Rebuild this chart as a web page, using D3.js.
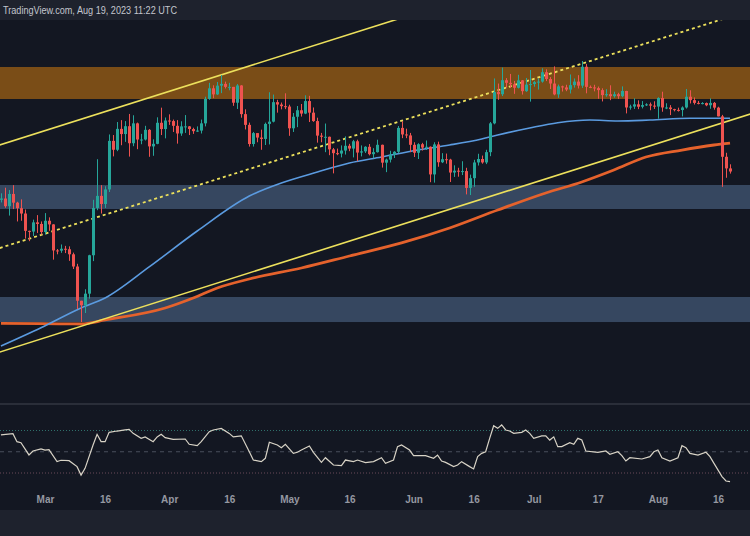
<!DOCTYPE html>
<html><head><meta charset="utf-8">
<script src="https://cdn.jsdelivr.net/npm/d3@7"></script>
<style>html,body{margin:0;padding:0;background:#131722;}svg{display:block}</style>
</head><body>
<svg id="c" width="750" height="536"></svg>
<script>
// ---------- DATA ----------
const firstDay = "2023-02-18";
const lastDay = "2023-08-19";
const opens = [24570,24630,24280,24840,24440,24190,23950,23190,23160,23560,23490,
23140,23630,23470,22360,22350,22430,22410,22200,21700,20360,20190,20630,22160,24200,24750,24380,25050,27420,26970,28040,27770,28180,27300,28330,27490,27490,27990,27140,27270,28360,28030,
28480,28450,28200,27800,28170,28170,28030,27920,27950,28330,29650,30240,29900,30390,30490,30320,30320,29440,30400,28820,28250,27260,27820,27590,27520,28300,28420,29470,29340,29250,
29230,28070,28680,29030,28850,29530,28900,28450,27690,27630,27630,26990,26800,26780,26930,27170,27030,27400,26830,26890,27120,26750,26850,27220,26330,26480,26720,26870,28090,27750,27700,
27220,26820,27250,27080,27120,25760,27240,26350,26500,26480,25850,25940,25900,25920,25120,25580,26340,26510,26340,26850,28330,30030,29910,30700,30550,30470,30270,30690,30080,30450,
30480,30590,30620,31160,30770,30510,29900,30350,30290,30170,30420,30620,30390,31480,30320,30290,30250,30140,29860,29910,29800,29910,29800,30090,29180,29230,29350,29220,29310,29350,29280,
29230,29700,29180,29180,29090,29050,29040,29180,29770,29580,29430,29400,29420,29300,29430,29170,28700,26620,26050];
const highs = [24870,25130,25020,25250,24480,24590,24130,23200,23680,23880,23600,
23970,23780,23480,22420,22610,22550,22530,22270,21810,20360,20800,22180,24570,26500,25250,25200,27750,27720,28400,28500,28450,28830,28760,28370,27780,28200,28030,27500,28650,29170,28640,
28810,28530,28500,28440,28770,28190,28100,28170,28530,29770,30550,30410,30600,31000,30620,30550,30320,30480,30420,29080,28370,27880,27820,28000,28370,30020,29890,29600,29450,29960,
29330,28880,29260,29370,29850,29820,29180,28630,27830,28320,27640,27060,27030,27190,27650,27270,27470,27480,27190,27150,27260,27050,27480,27230,26530,26920,26900,28190,28440,28050,27830,
27350,27300,27320,27440,27140,27350,27380,26800,26780,26520,26200,26080,26400,26080,25750,26470,26770,26680,26970,28400,30800,30510,31430,30820,31060,30660,31010,30710,30830,31290,
30660,30800,31390,31330,30880,31500,30450,30390,30440,31030,30800,30990,31820,31640,30400,30440,30340,30240,30190,30410,30050,29990,30350,30100,29330,29680,29570,29530,29410,29450,29520,
29740,30050,29410,29310,29110,29170,29240,30200,30130,29730,29540,29470,29450,29680,29480,29220,28780,26820,26250];
const lows = [24450,24210,23860,24150,23600,23630,22860,22750,22970,23100,23030,
23030,23190,21980,22200,22260,22250,21930,21600,20050,19570,19900,20440,21920,24100,23950,24200,24930,26640,26900,27200,27370,26630,27150,27000,27250,27440,26620,26670,27250,27720,27550,
28250,27880,27280,27680,27830,27720,27780,27880,27800,28170,29600,29690,29870,29970,30230,30130,29270,29100,28630,28010,27130,27130,27350,26970,27210,27240,28380,28900,29080,29090,
27680,27880,28130,28690,28820,28400,28410,27330,27350,26850,26700,25810,26700,26590,26730,26900,26590,26400,26640,26810,26690,26550,26830,26090,25870,26340,26560,26800,27560,27560,26850,
26610,26510,26930,26960,25390,25370,26130,26310,26280,25400,25640,25650,25730,24820,24790,25170,26190,26280,26260,26650,28280,29600,29810,30280,30270,29930,30230,29890,30040,29500,
30330,30170,30560,30650,30200,29850,29710,30060,30080,29950,30280,30230,30260,29960,30250,30070,29660,29510,29770,29580,29720,29650,29740,28860,29060,29100,29090,29130,29260,29030,29100,
28580,28950,29090,28770,28970,28960,28700,29120,29400,29340,29350,29350,29250,29110,29060,28700,25170,25600,25800];
const closes = [24630,24280,24840,24440,24190,23950,23190,23160,23560,23490,23140,
23630,23470,22360,22350,22430,22410,22200,21700,20360,20190,20630,22160,24200,24750,24380,25050,27420,26970,28040,27770,28180,27300,28330,27490,27490,27990,27140,27270,28360,28030,28480,
28450,28200,27800,28170,28170,28030,27920,27950,28330,29650,30240,29900,30390,30490,30320,30320,29440,30400,28820,28250,27260,27820,27590,27520,28300,28420,29470,29340,29250,29230,
28070,28680,29030,28850,29530,28900,28450,27690,27630,27630,26990,26800,26780,26930,27170,27030,27400,26830,26890,27120,26750,26850,27220,26330,26480,26720,26870,28090,27750,27700,27220,
26820,27250,27080,27120,25760,27240,26350,26500,26480,25850,25940,25900,25920,25120,25580,26340,26510,26340,26850,28330,30030,29910,30700,30550,30470,30270,30690,30080,30450,30480,
30590,30620,31160,30770,30510,29900,30350,30290,30170,30420,30620,30390,31480,30320,30290,30250,30140,29860,29910,29800,29910,29800,30090,29180,29230,29350,29220,29310,29350,29280,29230,
29700,29180,29180,29090,29050,29040,29180,29770,29580,29430,29400,29420,29300,29430,29170,28700,26620,26050,25900];

const ma100Dates = ["2023-02-18","2023-02-28","2023-03-10","2023-03-16","2023-03-27","2023-04-08","2023-04-21","2023-04-29","2023-05-08","2023-05-16","2023-05-24","2023-06-02","2023-06-10","2023-06-18","2023-06-22","2023-06-30","2023-07-07","2023-07-15","2023-07-22","2023-07-30","2023-08-09","2023-08-19"];
const ma100Values = [18714,19362,20087,20464,21683,23183,24745,25351,25875,26313,26609,26958,27211,27518,27722,28085,28363,28505,28455,28505,28598,28598];
const ma200Dates = ["2023-02-18","2023-02-28","2023-03-10","2023-03-16","2023-03-31","2023-04-07","2023-04-13","2023-04-21","2023-05-04","2023-05-16","2023-05-29","2023-06-10","2023-06-22","2023-07-04","2023-07-13","2023-07-21","2023-07-29","2023-08-07","2023-08-15","2023-08-19"];
const ma200Values = [19523,19510,19498,19645,20087,20464,20849,21202,21640,22129,22674,23312,24107,24884,25401,25971,26609,26958,27211,27311];

const zoneLow = [29643, 24153, 19569];
const zoneHigh = [31464, 25258, 20503];
const zoneColors = ["#7a4d17", "#364760", "#364760"];

const trendStartDate = ["2023-02-12","2023-02-12","2023-02-12"];
const trendStartPrice = [26850, 22159, 18257];
const trendEndDate = ["2023-06-30","2023-08-31","2023-08-31"];
const trendEndPrice = [37183, 35545, 29306];
const trendDashed = [false, true, false];

const rsiDates = ["2023-02-18","2023-02-21","2023-02-22","2023-02-23","2023-02-25","2023-02-26","2023-02-28","2023-03-01","2023-03-02","2023-03-04","2023-03-05","2023-03-07","2023-03-09","2023-03-10","2023-03-11","2023-03-13","2023-03-14","2023-03-15","2023-03-16","2023-03-17","2023-03-19","2023-03-21","2023-03-22","2023-03-23","2023-03-25","2023-03-26","2023-03-28","2023-03-29","2023-03-30","2023-03-31","2023-04-02","2023-04-05","2023-04-06","2023-04-08","2023-04-09","2023-04-11","2023-04-12","2023-04-14","2023-04-16","2023-04-17","2023-04-19","2023-04-21","2023-04-22","2023-04-24","2023-04-25","2023-04-26","2023-04-28","2023-04-29","2023-04-30","2023-05-02","2023-05-03","2023-05-04","2023-05-06","2023-05-07","2023-05-09","2023-05-10","2023-05-12","2023-05-14","2023-05-15","2023-05-17","2023-05-18","2023-05-20","2023-05-22","2023-05-24","2023-05-25","2023-05-27","2023-05-28","2023-05-29","2023-05-31","2023-06-01","2023-06-03","2023-06-04","2023-06-06","2023-06-07","2023-06-08","2023-06-09","2023-06-11","2023-06-12","2023-06-13","2023-06-15","2023-06-16","2023-06-17","2023-06-18","2023-06-19","2023-06-20","2023-06-21","2023-06-22","2023-06-23","2023-06-24","2023-06-25","2023-06-26","2023-06-28","2023-06-29","2023-06-30","2023-07-01","2023-07-03","2023-07-04","2023-07-05","2023-07-06","2023-07-07","2023-07-08","2023-07-10","2023-07-11","2023-07-12","2023-07-13","2023-07-14","2023-07-17","2023-07-19","2023-07-20","2023-07-22","2023-07-23","2023-07-24","2023-07-25","2023-07-28","2023-07-30","2023-07-31","2023-08-01","2023-08-02","2023-08-04","2023-08-06","2023-08-07","2023-08-08","2023-08-09","2023-08-11","2023-08-13","2023-08-14","2023-08-15","2023-08-17","2023-08-18","2023-08-19"];
const rsiValues = [65.8,67,59.5,58.5,47,50.7,52.6,51.5,52,40.7,42,41.6,36,28,34.4,56.4,66.4,59.5,59.5,68.3,69.5,70.5,71,67.3,62.6,64,59.5,64,66.4,63.3,61.7,62,57,55.7,59.5,68.9,70.5,72,67.3,64,65,50,42.2,40.7,43.8,58.9,56.4,53.8,57,48.5,49.5,51.6,55.4,49.5,40,44.4,37.5,36.9,42.2,40.7,42.2,39.7,40.7,44.4,39.1,42.2,54.8,56.4,51.6,46.3,46.3,46.3,43.8,46.9,41.3,40,36,37.5,40.7,36,33.8,45.4,48.5,50,62.6,74.5,72,75.2,70.5,69.5,67.3,68.3,70.5,67.3,62.6,65,65,61,64,54.8,54.8,58.5,57,62.6,61,50.7,49.5,50.7,47.6,50,46.3,41.3,44.4,43.2,45.4,50,51.6,44.4,41.3,44.4,55.7,53.8,48.5,46.9,49.5,45.4,39.1,26.6,22.5,21.8];
const rsiLevels = [70, 50, 30];

const tickDates = ["2023-03-01","2023-03-16","2023-04-01","2023-04-16","2023-05-01","2023-05-16","2023-06-01","2023-06-16","2023-07-01","2023-07-17","2023-08-01","2023-08-16"];
const tickLabels = ["Mar","16","Apr","16","May","16","Jun","16","Jul","17","Aug","16"];
const headerText = "TradingView.com, Aug 19, 2023 11:22 UTC";

// ---------- SCALES ----------
const W = 750, H = 536;
const paneTop = 20, paneBottom = 403;
const x = d3.scaleUtc().domain([new Date("2023-03-01"), new Date("2023-08-16")]).range([45, 718]);
const y = d3.scaleLog().domain([16830, 34342]).range([paneBottom, paneTop]);
const rsiY = d3.scaleLinear().domain([30, 70]).range([473, 430.5]);
const P = s => new Date(s);

const svg = d3.select("#c");
svg.append("rect").attr("width", W).attr("height", H).attr("fill", "#131722");

// header
svg.append("rect").attr("width", W).attr("height", paneTop).attr("fill", "#1e222d");
svg.append("text").attr("x", 3).attr("y", 14).attr("fill", "#c3c6ce")
  .attr("font-family", "'Liberation Sans', Arial, sans-serif").attr("font-size", 10)
  .attr("textLength", 174).attr("lengthAdjust", "spacingAndGlyphs")
  .text(headerText);

const defs = svg.append("defs");
defs.append("clipPath").attr("id", "main").append("rect")
  .attr("x", 0).attr("y", paneTop).attr("width", W).attr("height", paneBottom - paneTop);
const g = svg.append("g").attr("clip-path", "url(#main)");

// zones
g.selectAll("rect.zone").data(zoneLow).join("rect").attr("class", "zone")
  .attr("x", 0).attr("width", W)
  .attr("y", (d, i) => y(zoneHigh[i]))
  .attr("height", (d, i) => y(zoneLow[i]) - y(zoneHigh[i]))
  .attr("fill", (d, i) => zoneColors[i]);

// moving averages
const maLine = d3.line().x(d => x(d[0])).y(d => y(d[1])).curve(d3.curveMonotoneX);
g.append("path").datum(ma200Dates.map((d, i) => [P(d), ma200Values[i]]))
  .attr("d", maLine).attr("fill", "none").attr("stroke", "#e5622c").attr("stroke-width", 2.8);
g.append("path").datum(ma100Dates.map((d, i) => [P(d), ma100Values[i]]))
  .attr("d", maLine).attr("fill", "none").attr("stroke", "#5b9be0").attr("stroke-width", 1.6);

// trend lines
trendStartDate.forEach((s, i) => {
  g.append("line")
    .attr("x1", x(P(s))).attr("y1", y(trendStartPrice[i]))
    .attr("x2", x(P(trendEndDate[i]))).attr("y2", y(trendEndPrice[i]))
    .attr("stroke", "#ece05c").attr("stroke-width", trendDashed[i] ? 1.8 : 1.6)
    .attr("stroke-dasharray", trendDashed[i] ? "3,3" : null);
});

// candles
const days = d3.utcDay.range(P(firstDay), d3.utcDay.offset(P(lastDay), 1));
const candles = days.map((d, i) => ({d, o: opens[i], h: highs[i], l: lows[i], c: closes[i]}));
const cg = g.append("g");
candles.forEach(k => {
  const cx = Math.round(x(k.d));
  const col = k.c >= k.o ? "#26a69a" : "#ef5350";
  cg.append("rect").attr("x", cx).attr("width", 1)
    .attr("y", y(k.h)).attr("height", Math.max(1, y(k.l) - y(k.h))).attr("fill", col);
  const top = y(Math.max(k.o, k.c)), bot = y(Math.min(k.o, k.c));
  cg.append("rect").attr("x", cx - 1).attr("width", 3)
    .attr("y", top).attr("height", Math.max(1, bot - top)).attr("fill", col);
});

// pane separator
svg.append("rect").attr("x", 0).attr("y", paneBottom).attr("width", W).attr("height", 2).attr("fill", "#2a2e39");

// RSI pane
const lvlColors = ["#2f6f6a", "#4a4f5c", "#6a4a58"];
const lvlDash = ["1,2", "4,4", "1,2"];
rsiLevels.forEach((v, i) => {
  svg.append("line").attr("x1", 0).attr("x2", W).attr("y1", rsiY(v)).attr("y2", rsiY(v))
    .attr("stroke", lvlColors[i]).attr("stroke-width", 1).attr("stroke-dasharray", lvlDash[i]);
});
svg.append("path").datum(rsiDates.map((d, i) => [P(d), rsiValues[i]]))
  .attr("d", d3.line().x(d => x(d[0])).y(d => rsiY(d[1])))
  .attr("fill", "none").attr("stroke", "#d8d3c6").attr("stroke-width", 1.2);

// time axis
const axis = d3.axisBottom(x).tickValues(tickDates.map(P))
  .tickFormat((d, i) => tickLabels[i]).tickSize(0).tickPadding(0);
const ax = svg.append("g").attr("transform", "translate(0,496)").call(axis);
ax.select(".domain").remove();
ax.selectAll("text").attr("fill", "#9598a1").attr("font-size", 10).attr("font-weight", 600)
  .attr("font-family", "'Liberation Sans', Arial, sans-serif");

// bottom strip
svg.append("rect").attr("x", 0).attr("y", 510).attr("width", W).attr("height", H - 510).attr("fill", "#1e222d");
</script>
</body></html>
